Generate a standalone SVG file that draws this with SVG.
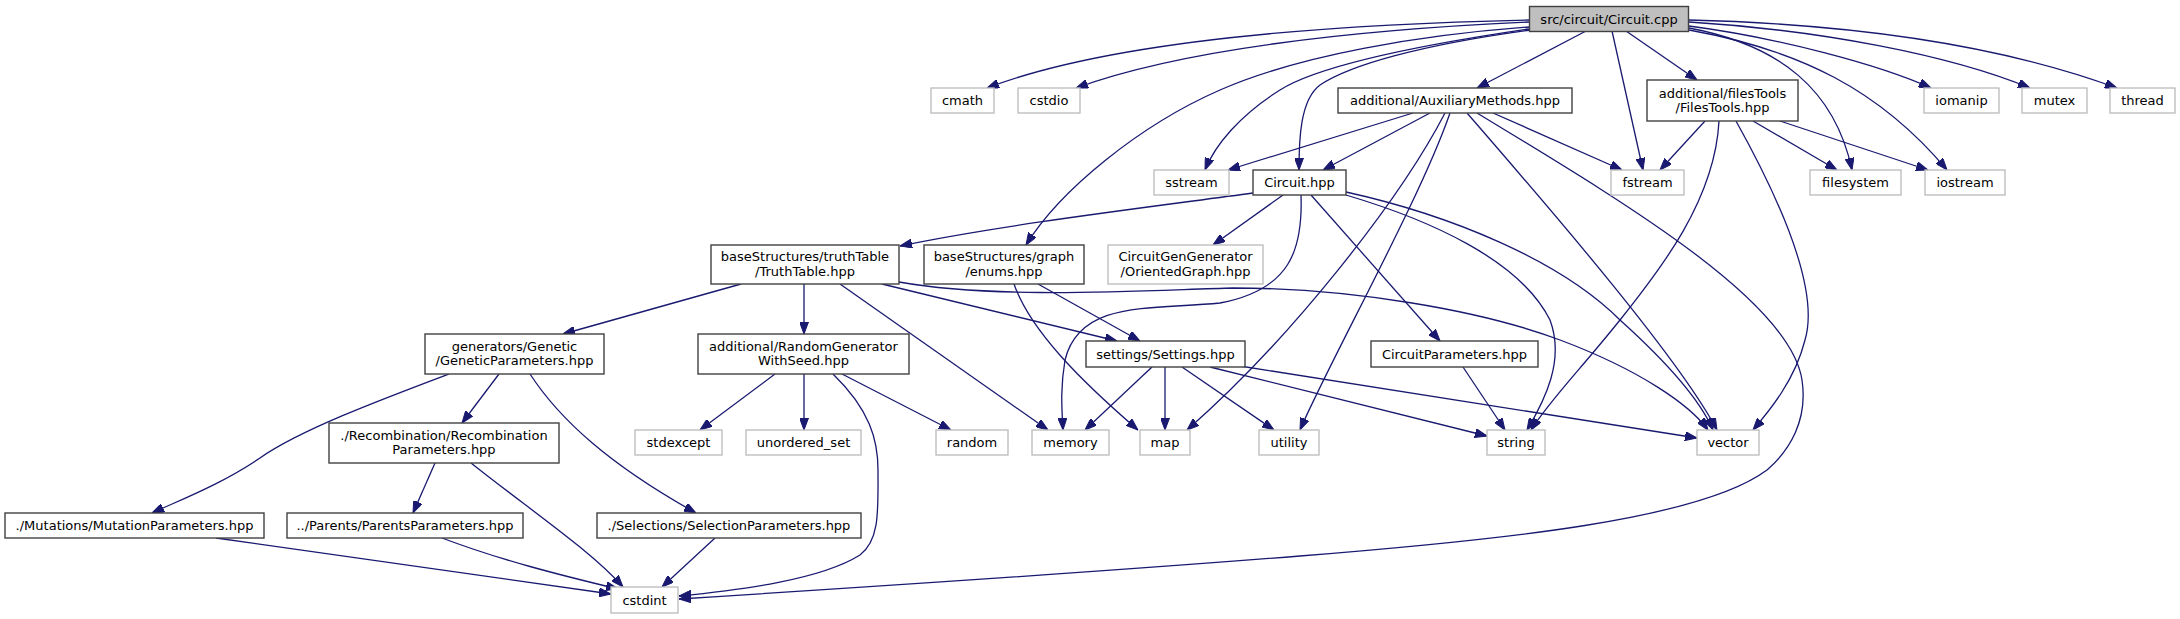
<svg xmlns="http://www.w3.org/2000/svg" width="2180" height="619" viewBox="0 0 2180 619">
<style>
.n rect{fill:#ffffff;stroke:#404040;stroke-width:1.4}
.s rect{fill:#ffffff;stroke:#bfbfbf;stroke-width:1.4}
.r rect{fill:#bfbfbf;stroke:#404040;stroke-width:1.4}
text{font-family:"DejaVu Sans","Liberation Sans",sans-serif;font-size:13px;fill:#000;text-anchor:middle}
#edges path{fill:none;stroke:#191970;stroke-width:1.3;marker-end:url(#ah)}
</style>
<defs>
<marker id="ah" markerUnits="userSpaceOnUse" markerWidth="12" markerHeight="9" refX="12" refY="4.5" orient="auto">
<path d="M0,0 L12,4.5 L0,9 z" fill="#191970" stroke="#191970" stroke-width="1"/>
</marker>
</defs>
<rect width="2180" height="619" fill="#ffffff"/>
<g id="edges">
<path d="M1529,20 C1300,25 1100,45 987,88"/>
<path d="M1529,22 C1350,30 1180,50 1076,88"/>
<path d="M1529,27 C1420,35 1300,55 1220,90 C1140,125 1060,190 1026,245"/>
<path d="M1529,29 C1420,45 1320,65 1280,90 C1240,115 1215,145 1205,170"/>
<path d="M1530,30 C1420,45 1350,65 1320,85 C1300,100 1299,140 1299,170"/>
<path d="M1586,31 L1477,88"/>
<path d="M1612,31 L1643,170"/>
<path d="M1626,31 L1697,80"/>
<path d="M1689,28 C1780,45 1835,90 1852,170"/>
<path d="M1689,30 C1800,50 1880,90 1947,170"/>
<path d="M1689,26 C1780,38 1880,65 1931,88"/>
<path d="M1689,22 C1820,30 1950,55 2030,88"/>
<path d="M1689,20 C1850,24 2000,45 2117,88"/>
<path d="M1413,113 L1228,170"/>
<path d="M1430,113 L1323,170"/>
<path d="M1445,113 C1400,200 1290,340 1187,430"/>
<path d="M1450,113 C1420,200 1330,360 1300,430"/>
<path d="M1467,113 C1560,220 1680,360 1717,430"/>
<path d="M1477,113 C1620,200 1790,300 1802,380 C1808,420 1790,450 1767,470 C1700,520 1500,540 1300,556 C1100,572 900,585 679,599"/>
<path d="M1493,113 L1622,170"/>
<path d="M1705,121 L1660,170"/>
<path d="M1719,121 C1715,200 1660,270 1620,320 C1580,370 1550,400 1531,430"/>
<path d="M1736,121 C1780,200 1820,290 1805,340 C1795,380 1770,410 1753,430"/>
<path d="M1753,121 L1837,170"/>
<path d="M1780,121 L1928,170"/>
<path d="M1253,193 C1150,207 1000,225 900,246"/>
<path d="M1283,195 L1213,245"/>
<path d="M1301,195 C1303,250 1290,290 1220,303 C1150,310 1080,300 1065,360 C1060,390 1062,410 1063,430"/>
<path d="M1311,195 L1440,341"/>
<path d="M1346,195 C1430,220 1520,260 1550,320 C1565,360 1545,400 1527,430"/>
<path d="M1346,192 C1450,215 1560,260 1620,320 C1670,365 1700,400 1713,430"/>
<path d="M741,284 L563,334"/>
<path d="M804,284 L804,334"/>
<path d="M840,284 L1048,430"/>
<path d="M882,284 L1117,341"/>
<path d="M899,282 C1000,300 1150,290 1233,288 C1350,288 1480,310 1560,340 C1640,370 1690,405 1708,430"/>
<path d="M1038,284 L1140,341"/>
<path d="M1014,284 C1030,330 1080,380 1138,430"/>
<path d="M1152,367 L1085,430"/>
<path d="M1165,367 L1165,430"/>
<path d="M1182,367 L1274,430"/>
<path d="M1210,367 L1487,436"/>
<path d="M1240,366 L1697,438"/>
<path d="M1463,367 L1505,430"/>
<path d="M775,374 L700,430"/>
<path d="M804,374 L804,430"/>
<path d="M842,374 L951,430"/>
<path d="M833,374 C870,410 878,440 878,470 C878,510 880,540 860,555 C820,580 740,590 679,596"/>
<path d="M449,374 C380,400 300,430 260,458 C220,485 180,500 152,513"/>
<path d="M499,374 L462,423"/>
<path d="M530,374 C560,420 610,465 696,513"/>
<path d="M435,463 L413,513"/>
<path d="M471,463 C530,510 590,550 623,587"/>
<path d="M216,538 C400,565 520,582 611,594"/>
<path d="M442,538 C500,560 560,575 618,589"/>
<path d="M715,538 L662,587"/>
</g>
<g id="n_cpp" class="r"><rect x="1529.5" y="6.5" width="159" height="25"/><text x="1609" y="23.5">src/circuit/Circuit.cpp</text></g>
<g id="n_cmath" class="s"><rect x="931" y="88" width="63" height="25"/><text x="962.5" y="105">cmath</text></g>
<g id="n_cstdio" class="s"><rect x="1018" y="88" width="62" height="25"/><text x="1049" y="105">cstdio</text></g>
<g id="n_aux" class="n"><rect x="1338" y="88" width="234" height="25"/><text x="1455" y="105">additional/AuxiliaryMethods.hpp</text></g>
<g id="n_filestools" class="n"><rect x="1647" y="80" width="151" height="41"/><text x="1722.5" y="97.5">additional/filesTools</text><text x="1722.5" y="112">/FilesTools.hpp</text></g>
<g id="n_iomanip" class="s"><rect x="1924" y="88" width="75" height="25"/><text x="1961.5" y="105">iomanip</text></g>
<g id="n_mutex" class="s"><rect x="2022" y="88" width="65" height="25"/><text x="2054.5" y="105">mutex</text></g>
<g id="n_thread" class="s"><rect x="2110" y="88" width="65" height="25"/><text x="2142.5" y="105">thread</text></g>
<g id="n_sstream" class="s"><rect x="1154" y="170" width="75" height="25"/><text x="1191.5" y="187">sstream</text></g>
<g id="n_circuithpp" class="n"><rect x="1253" y="170" width="93" height="25"/><text x="1299.5" y="187">Circuit.hpp</text></g>
<g id="n_fstream" class="s"><rect x="1611" y="170" width="73" height="25"/><text x="1647.5" y="187">fstream</text></g>
<g id="n_filesystem" class="s"><rect x="1810" y="170" width="91" height="25"/><text x="1855.5" y="187">filesystem</text></g>
<g id="n_iostream" class="s"><rect x="1925" y="170" width="80" height="25"/><text x="1965" y="187">iostream</text></g>
<g id="n_truthtable" class="n"><rect x="711" y="245" width="188" height="39"/><text x="805" y="261">baseStructures/truthTable</text><text x="805" y="275.5">/TruthTable.hpp</text></g>
<g id="n_enums" class="n"><rect x="924" y="245" width="160" height="39"/><text x="1004" y="261">baseStructures/graph</text><text x="1004" y="275.5">/enums.hpp</text></g>
<g id="n_orientedgraph" class="s"><rect x="1108" y="245" width="155" height="39"/><text x="1185.5" y="261">CircuitGenGenerator</text><text x="1185.5" y="275.5">/OrientedGraph.hpp</text></g>
<g id="n_genetic" class="n"><rect x="425" y="334" width="179" height="40"/><text x="514.5" y="350.5">generators/Genetic</text><text x="514.5" y="365">/GeneticParameters.hpp</text></g>
<g id="n_randomgen" class="n"><rect x="698" y="334" width="211" height="40"/><text x="803.5" y="350.5">additional/RandomGenerator</text><text x="803.5" y="365">WithSeed.hpp</text></g>
<g id="n_settings" class="n"><rect x="1086" y="341" width="159" height="26"/><text x="1165.5" y="358.5">settings/Settings.hpp</text></g>
<g id="n_circuitparams" class="n"><rect x="1371" y="341" width="167" height="26"/><text x="1454.5" y="358.5">CircuitParameters.hpp</text></g>
<g id="n_recomb" class="n"><rect x="329" y="423" width="230" height="40"/><text x="444" y="439.5">./Recombination/Recombination</text><text x="444" y="454">Parameters.hpp</text></g>
<g id="n_stdexcept" class="s"><rect x="635" y="430" width="87" height="25"/><text x="678.5" y="447">stdexcept</text></g>
<g id="n_unordered_set" class="s"><rect x="746" y="430" width="115" height="25"/><text x="803.5" y="447">unordered_set</text></g>
<g id="n_random" class="s"><rect x="936" y="430" width="72" height="25"/><text x="972" y="447">random</text></g>
<g id="n_memory" class="s"><rect x="1032" y="430" width="77" height="25"/><text x="1070.5" y="447">memory</text></g>
<g id="n_map" class="s"><rect x="1140" y="430" width="50" height="25"/><text x="1165" y="447">map</text></g>
<g id="n_utility" class="s"><rect x="1259" y="430" width="60" height="25"/><text x="1289" y="447">utility</text></g>
<g id="n_string" class="s"><rect x="1487" y="430" width="58" height="25"/><text x="1516" y="447">string</text></g>
<g id="n_vector" class="s"><rect x="1697" y="430" width="62" height="25"/><text x="1728" y="447">vector</text></g>
<g id="n_mutations" class="n"><rect x="5" y="513" width="259" height="25"/><text x="134.5" y="530">./Mutations/MutationParameters.hpp</text></g>
<g id="n_parents" class="n"><rect x="287" y="513" width="236" height="25"/><text x="405" y="530">../Parents/ParentsParameters.hpp</text></g>
<g id="n_selections" class="n"><rect x="597" y="513" width="264" height="25"/><text x="729" y="530">./Selections/SelectionParameters.hpp</text></g>
<g id="n_cstdint" class="s"><rect x="611" y="587" width="67" height="26"/><text x="644.5" y="604.5">cstdint</text></g>
</svg>
